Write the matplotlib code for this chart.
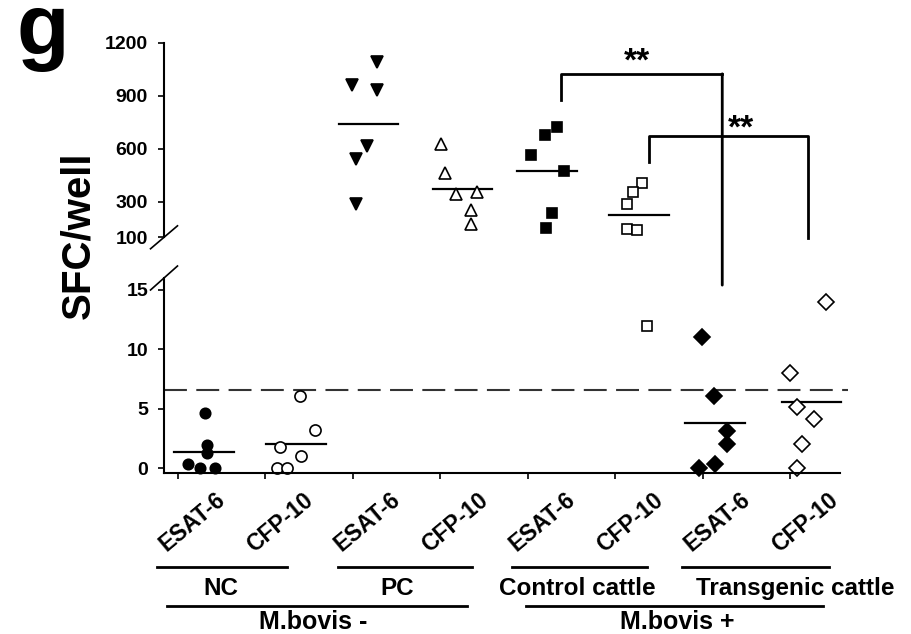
import numpy as np
import matplotlib.pyplot as plt
from matplotlib.patches import ConnectionPatch
from matplotlib.transforms import blended_transform_factory

plt.rcParams['font.family'] = ['Liberation Sans', 'DejaVu Sans']
plt.rcParams['font.weight'] = 'bold'

tick_labels = ['ESAT-6', 'CFP-10', 'ESAT-6', 'CFP-10',
               'ESAT-6', 'CFP-10', 'ESAT-6', 'CFP-10']
sub_groups = ['NC', 'PC', 'Control cattle', 'Transgenic cattle']
super_groups = ['M.bovis -', 'M.bovis +']

# SFC/well, six animals per group
nc_esat6 = [0.3, 0, 0, 4.6, 1.9, 1.3]
nc_cfp10 = [0, 0, 1.8, 1.0, 3.2, 6.1]
pc_esat6 = [1093, 962, 934, 615, 540, 287]
pc_cfp10 = [630, 465, 347, 358, 255, 175]
ctrl_esat6 = [726, 681, 564, 474, 240, 150]
ctrl_cfp10 = [405, 356, 287, 146, 142, 12]
tg_esat6 = [11, 6.1, 3.1, 2.0, 0.35, 0]
tg_cfp10 = [14, 8.0, 5.1, 4.1, 2.0, 0]

# horizontal spread of the dots in each column
nc_esat6_x = [0.12, 0.25, 0.42, 0.31, 0.335, 0.33]
nc_cfp10_x = [1.13, 1.25, 1.17, 1.41, 1.57, 1.39]
pc_esat6_x = [2.28, 1.99, 2.28, 2.16, 2.04, 2.03]
pc_cfp10_x = [3.01, 3.05, 3.18, 3.42, 3.35, 3.35]
ctrl_esat6_x = [4.33, 4.19, 4.04, 4.41, 4.28, 4.21]
ctrl_cfp10_x = [5.30, 5.20, 5.13, 5.13, 5.25, 5.36]
tg_esat6_x = [5.985, 6.13, 6.27, 6.27, 6.137, 5.958]
tg_cfp10_x = [7.41, 6.99, 7.07, 7.27, 7.13, 7.07]

group_centres = [0.30, 1.35, 2.18, 3.25, 4.22, 5.27, 6.14, 7.24]
cutoff = 6.6

all_vals = [nc_esat6, nc_cfp10, pc_esat6, pc_cfp10,
            ctrl_esat6, ctrl_cfp10, tg_esat6, tg_cfp10]
all_x = [nc_esat6_x, nc_cfp10_x, pc_esat6_x, pc_cfp10_x,
         ctrl_esat6_x, ctrl_cfp10_x, tg_esat6_x, tg_cfp10_x]
styles = [('o', 'black', 7.5), ('o', 'white', 8), ('v', 'black', 8.5), ('^', 'white', 8.5),
          ('s', 'black', 7.5), ('s', 'white', 7.5), ('D', 'black', 8), ('D', 'white', 8.5)]

W, H = 912, 634
fig = plt.figure(figsize=(W / 100, H / 100), dpi=100)
ax_up = fig.add_axes([164 / W, 1 - 237.3 / H, 684.25 / W, 194.6 / H])
ax_low = fig.add_axes([164 / W, 1 - 473 / H, 684.25 / W, 195 / H])

for ax in (ax_up, ax_low):
    ax.set_xlim(-0.16, 7.66)
    ax.spines['top'].set_visible(False)
    ax.spines['right'].set_visible(False)
    ax.spines['left'].set_linewidth(1.5)
    ax.tick_params(axis='y', length=4.5, width=1.2, pad=7, labelsize=14)

ax_up.spines['bottom'].set_visible(False)
ax_up.set_xticks([])
ax_up.set_ylim(100, 1200)
ax_up.set_yticks([100, 300, 600, 900, 1200])

ax_low.set_ylim(-0.42, 16.0)
ax_low.set_yticks([0, 5, 10, 15])
ax_low.spines['bottom'].set_linewidth(1.5)
ax_low.spines['bottom'].set_bounds(-0.16, 7.57)
ax_low.set_xticks(range(len(tick_labels)))
ax_low.set_xticklabels([])
ax_low.tick_params(axis='x', length=4, width=1.2)

# axis break marks
ax_up.plot([-0.0197, 0.0197], [-0.059, 0.059], transform=ax_up.transAxes,
           color='black', lw=1.2, clip_on=False)
ax_low.plot([-0.0197, 0.0197], [1 - 0.0615, 1 + 0.0615], transform=ax_low.transAxes,
            color='black', lw=1.2, clip_on=False)

# dots and group means
for vals, xs, (m, fc, ms), c in zip(all_vals, all_x, styles, group_centres):
    vals = np.array(vals)
    xs = np.array(xs)
    hi = vals >= 100
    kw = dict(ls='none', marker=m, mfc=fc, mec='black', ms=ms, mew=1.2, clip_on=False)
    ax_up.plot(xs[hi], vals[hi], **kw)
    ax_low.plot(xs[~hi], vals[~hi], **kw)
    mean = vals.mean()
    ax = ax_up if mean >= 100 else ax_low
    ax.plot([c - 0.34, c + 0.34], [mean, mean], color='black', lw=1.6, zorder=1)

ax_low.axhline(cutoff, color='#333333', lw=1.5, dashes=(11, 4.5), zorder=0)

# significance brackets
ax_up.plot([4.38, 4.38, 6.22], [878, 1024, 1024], color='black', lw=2, clip_on=False)
con = ConnectionPatch(xyA=(6.22, 1024), coordsA=ax_up.transData,
                      xyB=(6.22, 15.4), coordsB=ax_low.transData,
                      color='black', lw=2)
fig.add_artist(con)
ax_up.plot([5.38, 5.38, 7.2, 7.2], [523, 675, 675, 97], color='black', lw=2, clip_on=False)
ax_up.text(5.25, 1041, '**', ha='center', va='baseline', fontsize=24)
ax_up.text(6.43, 664, '**', ha='center', va='baseline', fontsize=24)

# rotated column labels
xtr = ax_low.get_xaxis_transform()
for i, lab in enumerate(tick_labels):
    ax_low.text(i + 0.51, -0.123, lab, transform=xtr, rotation=40,
                rotation_mode='anchor', ha='right', va='center', fontsize=16.5)

# group captions with underlines
bt = blended_transform_factory(ax_low.transData, fig.transFigure)
sub_spans = [(-0.24, 1.25), (1.83, 3.36), (3.82, 5.36), (5.76, 7.44)]
sub_x = [0.49, 2.51, 4.56, 7.05]
for (a, b), lab, x in zip(sub_spans, sub_groups, sub_x):
    ax_low.plot([a, b], [0.1057, 0.1057], transform=bt, color='black', lw=2, clip_on=False)
    ax_low.text(x, 0.0615, lab, transform=bt, ha='center', va='baseline', fontsize=17.5)

super_spans = [(-0.13, 3.30), (3.98, 7.37)]
super_x = [1.54, 5.71]
for (a, b), lab, x in zip(super_spans, super_groups, super_x):
    ax_low.plot([a, b], [0.0442, 0.0442], transform=bt, color='black', lw=2, clip_on=False)
    ax_low.text(x, 0.0075, lab, transform=bt, ha='center', va='baseline', fontsize=18)

fig.text(78 / W, 1 - 235 / H, 'SFC/well', rotation=90, ha='center', va='center', fontsize=29)
fig.text(17 / W, 1 - 54 / H, 'g', ha='left', va='baseline', fontsize=62)

fig.savefig('out.png', dpi=100)
